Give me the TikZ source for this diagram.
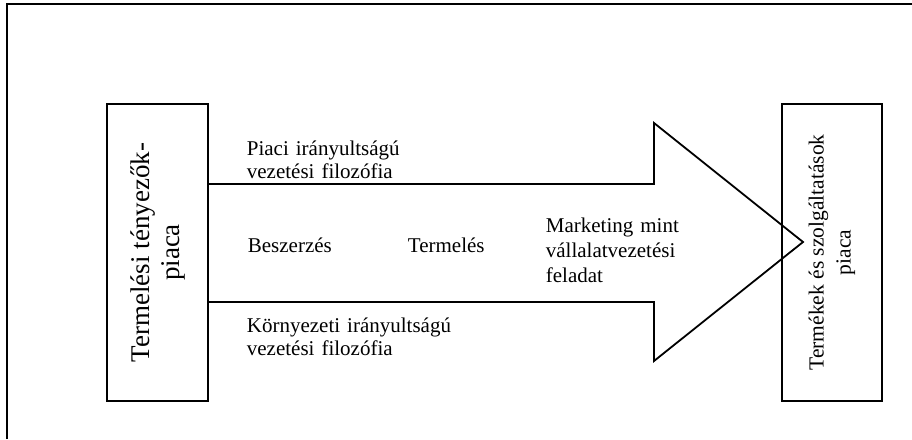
\documentclass[tikz,border=0pt]{standalone}
\usepackage{fontspec}
\setmainfont{Liberation Serif}
\begin{document}
\begin{tikzpicture}[x=1pt,y=-1pt,
  line width=1.8pt,
  marketbox/.style={draw, line width=1.8pt, rotate=90, align=center, inner sep=0pt,
    minimum width=297pt},
  lbl/.style={anchor=base west, inner sep=0pt, text width=220pt, align=left,
    font=\fontsize{21}{23}\selectfont}
]
\useasboundingbox (0,0) rectangle (912,439);
% outer frame (left and top edges only)
\draw[line width=1.6pt] (7,439) -- (7,4) -- (912,4);
% boxes
\node[marketbox, minimum height=101pt, font=\fontsize{27}{30}\selectfont]
  (left) at (157.5,252.5) {Termelési tényezők-\\piaca};
\node[marketbox, minimum height=100pt, font=\fontsize{21.5}{27}\selectfont]
  (right) at (832,252.5) {Termékek és szolgáltatások\\piaca};
% big arrow
\draw[line join=miter] (208,184) -- (654,184) -- (654,123) -- (803,242)
  -- (654,361) -- (654,302) -- (208,302);
% labels
\node[lbl] (piaci) at (246,155) {Piaci irányultságú\\vezetési filozófia};
\node[lbl] (beszerzes) at (247,252) {Beszerzés};
\node[lbl] (termeles) at (407,252) {Termelés};
\node[lbl, font=\fontsize{21}{25}\selectfont] (marketing) at (545,232)
  {Marketing mint\\vállalatvezetési\\feladat};
\node[lbl] (kornyezeti) at (246,332) {Környezeti irányultságú\\vezetési filozófia};
\end{tikzpicture}
\end{document}
